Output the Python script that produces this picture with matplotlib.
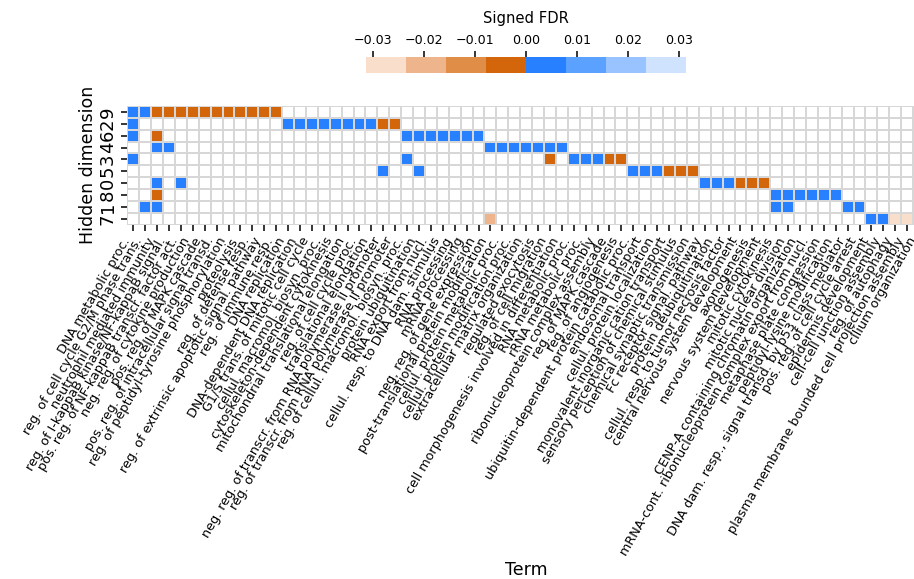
import numpy as np
import matplotlib
matplotlib.use("Agg")
import matplotlib.pyplot as plt
from matplotlib.colors import ListedColormap, Normalize
from matplotlib.ticker import FuncFormatter

# ---------------- data ----------------
terms = [
    "DNA metabolic proc.",
    "reg. of cell cycle G2/M phase trans.",
    "neutrophil mediated immunity",
    "reg. of I-kappaB kinase/NF-kappaB signal.",
    "pos. reg. of NF-kappaB transcr. factor act.",
    "neg. reg. of cytokine production",
    "pos. reg. of MAPK cascade",
    "pos. reg. of intracellular signal transd.",
    "reg. of peptidyl-tyrosine phosphorylation",
    "proteolysis",
    "reg. of defense resp.",
    "reg. of extrinsic apoptotic signal. pathway",
    "reg. of immune resp.",
    "DNA replication",
    "DNA-dependent DNA replication",
    "G1/S trans. of mitotic cell cycle",
    "cellul. macromol. biosyn. proc.",
    "cytoskeleton-dependent cytokinesis",
    "mitochondrial translational elongation",
    "reg. of cell cycle proc.",
    "translational elongation",
    "neg. reg. of transcr. from RNA polymerase II promoter",
    "reg. of transcr. from RNA polymerase II promoter",
    "reg. of cellul. macromol. biosyn. proc.",
    "protein ubiquitination",
    "RNA export from nucl.",
    "cellul. resp. to DNA dam. stimulus",
    "RNA processing",
    "mRNA processing",
    "neg. reg. of gene expression",
    "post-translational protein modification",
    "cellul. protein metabolic proc.",
    "cellul. protein modification proc.",
    "extracellular matrix organization",
    "regulated exocytosis",
    "reg. of cell migration",
    "cell morphogenesis involved in differentiation",
    "RNA metabolic proc.",
    "rRNA metabolic proc.",
    "ribonucleoprotein complex assembly",
    "reg. of MAPK cascade",
    "reg. of angiogenesis",
    "ubiquitin-dependent protein catabolic proc.",
    "endosomal transport",
    "cellul. protein localization",
    "monovalent inorganic cation transport",
    "sensory perception of chemical stimulus",
    "chemical synaptic transmission",
    "Fc receptor signal. pathway",
    "protein deubiquitination",
    "cellul. resp. to tumor necrosis factor",
    "central nervous system development",
    "axonogenesis",
    "nervous system development",
    "mitotic cytokinesis",
    "mitotic nuclear division",
    "CENP-A containing chromatin organization",
    "mRNA-cont. ribonucleoprotein complex export from nucl.",
    "metaphase plate congression",
    "peptidyl-lysine modification",
    "DNA dam. resp., signal transd. by p53 class mediator",
    "pos. reg. of cell cycle arrest",
    "epidermis development",
    "cell-cell junction assembly",
    "reg. of autophagy",
    "plasma membrane bounded cell projection assembly",
    "cilium organization",
]

dims = [9, 2, 6, 4, 3, 5, 0, 8, 1, 7]

# significant (dimension, term index, signed FDR)
hit_dim = (
    [9] * 13
    + [2] * 11
    + [6] * 9
    + [4] * 9
    + [3] * 8
    + [5] * 8
    + [0] * 8
    + [8] * 7
    + [1] * 6
    + [7] * 6
)
hit_term = (
    [0, 1, 2, 3, 4, 5, 6, 7, 8, 9, 10, 11, 12]
    + [0, 13, 14, 15, 16, 17, 18, 19, 20, 21, 22]
    + [0, 2, 23, 24, 25, 26, 27, 28, 29]
    + [2, 3, 30, 31, 32, 33, 34, 35, 36]
    + [0, 23, 35, 37, 38, 39, 40, 41]
    + [21, 24, 42, 43, 44, 45, 46, 47]
    + [2, 4, 48, 49, 50, 51, 52, 53]
    + [2, 54, 55, 56, 57, 58, 59]
    + [1, 2, 54, 55, 60, 61]
    + [30, 62, 63, 64, 65, 66]
)
hit_fdr = (
    [0.0011, 0.0032, -0.0004, -0.0009, -0.0012, -0.0021, -0.0018, -0.0025, -0.0030, -0.0041, -0.0036, -0.0044, -0.0052]
    + [0.0008, 0.0002, 0.0005, 0.0011, 0.0019, 0.0024, 0.0031, 0.0036, 0.0045, -0.0028, -0.0047]
    + [0.0041, -0.0033, 0.0007, 0.0013, 0.0020, 0.0026, 0.0034, 0.0042, 0.0055]
    + [0.0046, 0.0058, 0.0006, 0.0012, 0.0019, 0.0027, 0.0035, 0.0044, 0.0060]
    + [0.0052, 0.0049, -0.0061, 0.0014, 0.0022, 0.0037, -0.0029, -0.0048]
    + [0.0063, 0.0057, 0.0016, 0.0025, 0.0039, -0.0021, -0.0034, -0.0050]
    + [0.0038, 0.0059, 0.0017, 0.0028, 0.0043, -0.0019, -0.0031, -0.0046]
    + [-0.0054, 0.0009, 0.0018, 0.0027, 0.0036, 0.0048, 0.0061]
    + [0.0062, 0.0051, 0.0040, 0.0047, 0.0023, 0.0035]
    + [-0.0195, 0.0029, 0.0041, -0.0292, -0.0301, -0.0314]
)

cbar_colors = ["#f9dfcb", "#eeb58c", "#e08d48", "#d3650b",
               "#2680ff", "#5ba1ff", "#99c3ff", "#cfe3ff"]
vlim = 0.0314

# ---------------- build matrix ----------------
mat = np.full((len(dims), len(terms)), np.nan)
for d, t, v in zip(hit_dim, hit_term, hit_fdr):
    mat[dims.index(d), t] = v

W, H = 914, 579
fig = plt.figure(figsize=(W / 100, H / 100), dpi=100)

x0, x1 = 127.3, 925.0
y0, y1 = 106.0, 224.7
ax = fig.add_axes([x0 / W, 1 - y1 / H, (x1 - x0) / W, (y1 - y0) / H])

cmap = ListedColormap(cbar_colors)
norm = Normalize(vmin=-vlim, vmax=vlim)
grid_col = "#d7d7d7"

nr, nc = mat.shape
# background grid of empty cells
ax.pcolormesh(np.arange(nc + 1), np.arange(nr + 1), np.zeros((nr, nc)),
              cmap=ListedColormap(["white"]), edgecolors=grid_col, linewidth=1.1)
mesh = ax.pcolormesh(np.arange(nc + 1), np.arange(nr + 1),
                     np.ma.masked_invalid(mat), cmap=cmap, norm=norm,
                     edgecolors=grid_col, linewidth=1.1)
ax.set_xlim(0, nc)
ax.set_ylim(nr, 0)
for s in ax.spines.values():
    s.set_visible(False)

ax.set_xticks(np.arange(nc) + 0.5)
ax.set_xticklabels(terms, rotation=60, ha="right", fontsize=9.2)
ax.set_yticks(np.arange(nr) + 0.5)
ax.set_yticklabels([str(d) for d in dims], rotation=90, va="center", fontsize=13)
ax.tick_params(axis="both", length=4, width=1.1)

ax.set_xlabel("Term", fontsize=12.5)
ax.xaxis.set_label_coords(0.5, -2.83)
ax.set_ylabel("Hidden dimension", fontsize=12.5)
ax.yaxis.set_label_coords(-0.038, 0.5)

# colorbar
cx0, cx1 = 366.0, 686.0
cy0, cy1 = 57.3, 73.3
cax = fig.add_axes([cx0 / W, 1 - cy1 / H, (cx1 - cx0) / W, (cy1 - cy0) / H])
cb = fig.colorbar(mesh, cax=cax, orientation="horizontal")
cb.outline.set_visible(False)
cb.set_ticks([-0.03, -0.02, -0.01, 0.0, 0.01, 0.02, 0.03])
cb.ax.xaxis.set_major_formatter(FuncFormatter(
    lambda v, p: ("\u2212" if v < -1e-9 else "") + f"{abs(v):.2f}"))
cax.xaxis.set_ticks_position("top")
cax.xaxis.set_label_position("top")
cax.tick_params(axis="x", labelsize=9.1, length=4, width=1.1)
cb.set_label("Signed FDR", fontsize=10.6, labelpad=8)

fig.savefig("out.png", dpi=100)
